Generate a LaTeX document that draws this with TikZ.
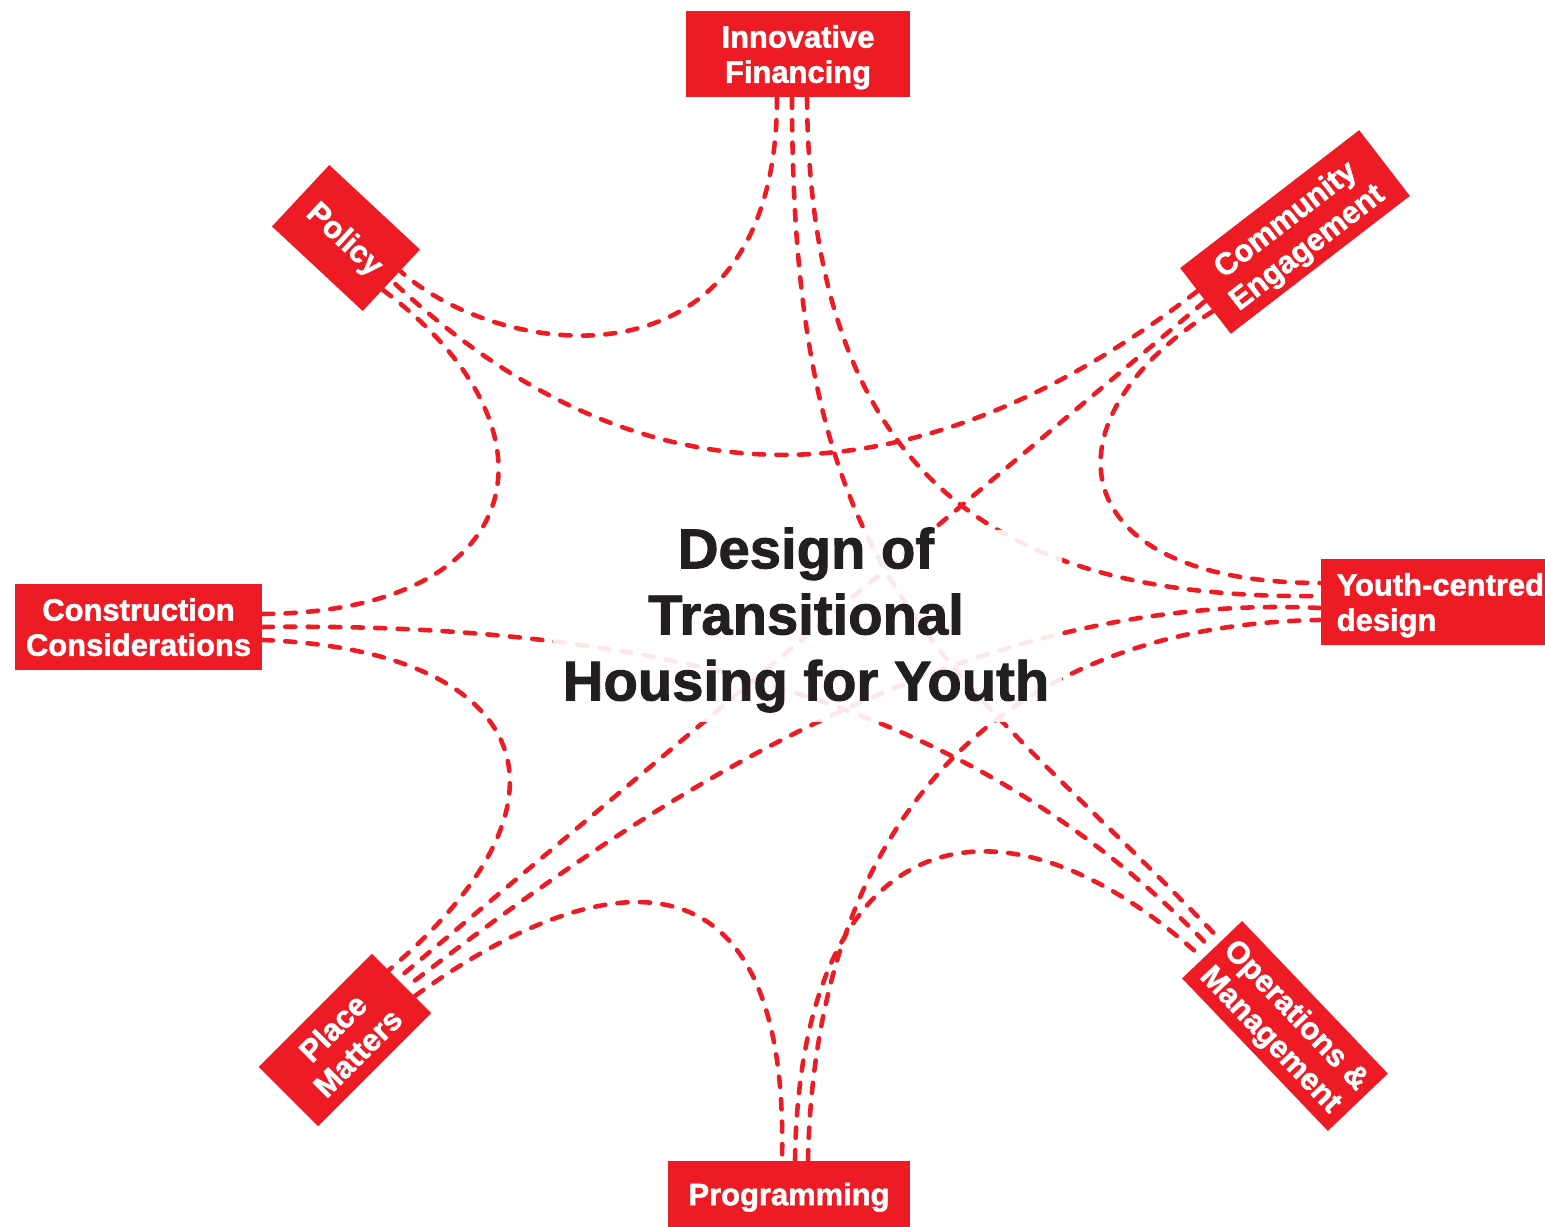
\documentclass[tikz,border=0pt]{standalone}
\usepackage{fontspec}
\setmainfont{Liberation Sans}[BoldFeatures={FakeBold=1.6}]
\usepackage{tikz}
\usetikzlibrary{calc}
\definecolor{tagred}{RGB}{237, 28, 36}
\definecolor{ink}{RGB}{35, 31, 32}
\tikzset{
    tag/.style={fill=tagred, text=white, align=center, inner sep=0pt, minimum height=8.6mm, text depth=0pt, font=\bfseries\fontsize{8.8}{10}\selectfont},
    link/.style={draw=tagred, line width=1.3pt, line cap=round, dash pattern=on 2.9pt off 3.5pt},
    hub/.style={text=ink, align=center, font=\bfseries\fontsize{16}{18.8}\selectfont},
}

\begin{document}
\begin{tikzpicture}[x=0.1mm, y=0.1mm]
    \useasboundingbox(0, 0)rectangle(1545, -1227);
    % the eight tags round the ring
    \node[tag, minimum width=22.4mm](IF)at(798, -54){Innovative\\Financing};
    \node[tag, minimum width=22.6mm, minimum height=8.3mm, rotate=37.6](CE)at(1295, -232){Community\\Engagement};
    \node[tag, anchor=west, align=left, inner xsep=1.6mm, minimum height=8.6mm](YC)at(1320, -602){Youth-centred\\design};
    \node[tag, minimum width=21.1mm, minimum height=8.3mm, rotate=-46.3](PM)at(1285, -1026){Operations \&\\Management};
    \node[tag, minimum width=24.2mm, minimum height=6.6mm](PR)at(789, -1194){Programming};
    \node[tag, minimum width=16mm, minimum height=8.4mm, rotate=45](PL)at(345, -1040){Place\\Matters};
    \node[tag, minimum width=24.7mm](CC)at(138.5, -627){Construction\\Considerations};
    \node[tag, minimum width=12.4mm, minimum height=8.4mm, rotate=-43](PO)at(346, -238){Policy};

    % ports
    \coordinate(IF-po)at($(IF.south)+(-21, 0)$);
    \coordinate(IF-pm)at($(IF.south)+(-6, 0)$);
    \coordinate(IF-yc)at($(IF.south)+(9, 0)$);
    \coordinate(CE-po)at($(CE.west)!.3!(CE.north west)$);
    \coordinate(CE-pl)at(CE.west);
    \coordinate(CE-yc)at($(CE.west)!.3!(CE.south west)$);
    \coordinate(YC-ce)at($(YC.west)+(0, 19)$);
    \coordinate(YC-if)at($(YC.west)+(0, 6)$);
    \coordinate(YC-pl)at($(YC.west)+(0, -6)$);
    \coordinate(YC-pr)at($(YC.west)+(0, -18)$);
    \coordinate(PM-if)at($(PM.west)!.3!(PM.north west)$);
    \coordinate(PM-cc)at(PM.west);
    \coordinate(PM-pr)at($(PM.west)!.3!(PM.south west)$);
    \coordinate(PR-pl)at($(PR.north)+(-7, 0)$);
    \coordinate(PR-pm)at($(PR.north)+(6, 0)$);
    \coordinate(PR-yc)at($(PR.north)+(19, 0)$);
    \coordinate(PL-cc)at($(PL.east)!.43!(PL.north east)$);
    \coordinate(PL-ce)at($(PL.east)!.14!(PL.north east)$);
    \coordinate(PL-yc)at($(PL.east)!.14!(PL.south east)$);
    \coordinate(PL-pr)at($(PL.east)!.43!(PL.south east)$);
    \coordinate(CC-po)at($(CC.east)+(0, 13)$);
    \coordinate(CC-pm)at(CC.east);
    \coordinate(CC-pl)at($(CC.east)+(0, -13)$);
    \coordinate(PO-if)at($(PO.east)!.3!(PO.north east)$);
    \coordinate(PO-ce)at(PO.east);
    \coordinate(PO-cc)at($(PO.east)!.3!(PO.south east)$);

    % links
    \draw[link](IF-po)..controls(777, -400)and(500, -360)..(PO-if);
    \draw[link](IF-pm)..controls(792, -600)and(945, -652)..(PM-if);
    \draw[link](IF-yc)..controls(810, -480)and(1000, -600)..(YC-if);
    \draw[link](CE-po)..controls(901, -518)and(629, -504)..(PO-ce);
    \draw[link](CE-pl)--(PL-ce);
    \draw[link](CE-yc)..controls(1040, -420)and(1060, -583)..(YC-ce);
    \draw[link](YC-pl)..controls(950, -590)and(626, -818)..(PL-yc);
    \draw[link](PR-yc)..controls(815, -820)and(1000, -625)..(YC-pr);
    \draw[link](PR-pm)..controls(800, -830)and(993, -768)..(PM-pr);
    \draw[link](PL-pr)..controls(595, -866)and(790, -830)..(PR-pl);
    \draw[link](CC-pl)..controls(520, -650)and(600, -790)..(PL-cc);
    \draw[link](CC-pm)..controls(650, -622)and(971, -697)..(PM-cc);
    \draw[link](PO-cc)..controls(570, -430)and(530, -612)..(CC-po);

    % veil under the title
    \fill[white, fill opacity=.9, rounded corners=2mm](553, -530)rectangle(1062, -722);
    \node[hub](T)at(806, -620){Design of\\Transitional\\Housing for Youth};
\end{tikzpicture}
\end{document}
